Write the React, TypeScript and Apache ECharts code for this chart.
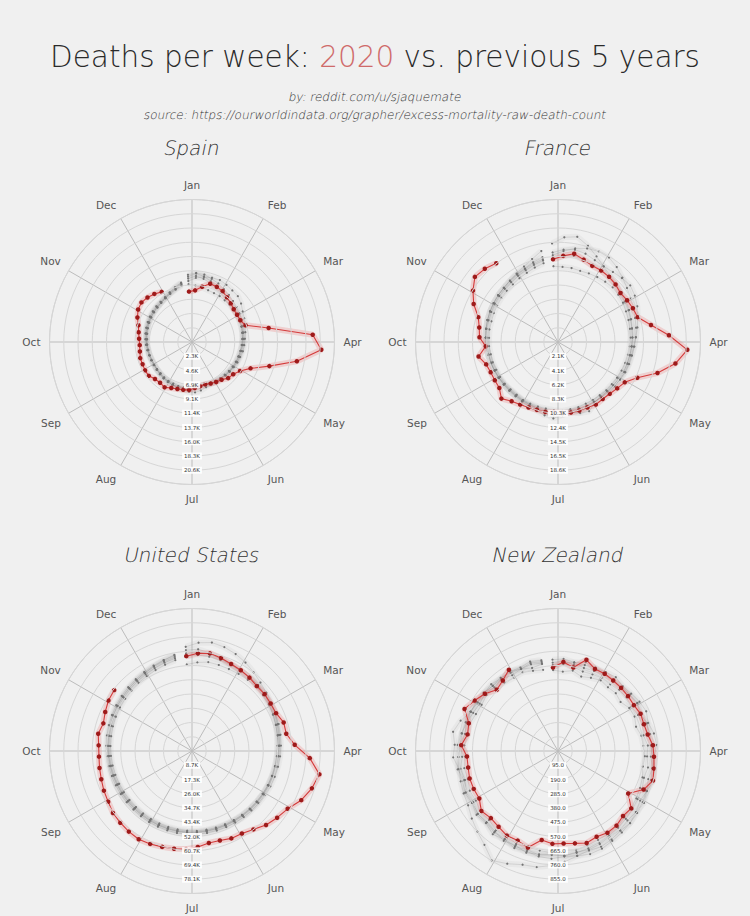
import React, { useEffect, useRef } from 'react';
import * as echarts from 'echarts';

const MONTHS = ['Jan', 'Feb', 'Mar', 'Apr', 'May', 'Jun', 'Jul', 'Aug', 'Sep', 'Oct', 'Nov', 'Dec'];

// ---------- Spain ----------
const spainTicks = ['2.3K', '4.6K', '6.9K', '9.1K', '11.4K', '13.7K', '16.0K', '18.3K', '20.6K'];
const spain2020 = [8100, 8300, 9000, 9800, 9700, 9500, 9100, 8800, 8500, 8450, 8500, 9000, 12500,
  19400, 20780, 17100, 13000, 10300, 9000, 8400, 8200, 7700, 7500, 7300, 7100, 7200,
  7400, 7700, 7800, 7900, 8100, 8500, 8300, 8400, 8800, 8800, 8700, 8700, 8500,
  8400, 8500, 8700, 9000, 9600, 10100, 10300, 10100, 9800, 9400];
const spain2015 = [10800, 11100, 11000, 10600, 10300, 9900, 9600, 9300, 9100, 8900, 8700, 8600, 8400,
  8300, 8200, 8100, 8000, 7900, 7800, 7700, 7600, 7500, 7500, 7400, 7600, 7900,
  8100, 8000, 7700, 7600, 7500, 7500, 7400, 7300, 7200, 7100, 7100, 7200, 7200,
  7300, 7300, 7400, 7500, 7600, 7700, 7800, 7900, 8000, 8200, 8500, 8900, 9300];
const spain2016 = [9300, 9100, 8900, 8700, 8600, 8600, 8500, 8500, 8400, 8400, 8300, 8300, 8200,
  8100, 8000, 7900, 7800, 7800, 7700, 7600, 7500, 7400, 7300, 7300, 7200, 7200,
  7300, 7300, 7400, 7400, 7300, 7300, 7200, 7100, 7100, 7000, 7000, 7100, 7100,
  7200, 7200, 7300, 7400, 7500, 7600, 7700, 7800, 8000, 8300, 8700, 9200, 9700];
const spain2017 = [10500, 11000, 10700, 10200, 9700, 9300, 9000, 8800, 8700, 8600, 8500, 8400, 8300,
  8200, 8100, 8000, 7900, 7800, 7700, 7600, 7500, 7400, 7400, 7300, 7300, 7400,
  7500, 7600, 7500, 7500, 7600, 7500, 7400, 7300, 7200, 7200, 7100, 7100, 7200,
  7300, 7400, 7500, 7600, 7700, 7800, 7900, 8000, 8100, 8300, 8600, 9000, 9500];
const spain2018 = [9800, 10300, 10600, 10800, 10900, 10700, 10500, 10400, 10000, 9500, 9200, 8900, 8700,
  8500, 8400, 8300, 8100, 8000, 7800, 7700, 7600, 7500, 7400, 7300, 7200, 7200,
  7300, 7400, 7500, 7600, 7600, 7400, 7300, 7200, 7100, 7100, 7200, 7200, 7300,
  7400, 7500, 7600, 7700, 7800, 7900, 8000, 8100, 8200, 8400, 8700, 9100, 9600];
const spain2019 = [10200, 10600, 10300, 9900, 9500, 9200, 9000, 8800, 8600, 8500, 8400, 8300, 8200,
  8100, 8000, 7900, 7800, 7700, 7600, 7500, 7400, 7400, 7300, 7200, 7100, 7100,
  7300, 7600, 7800, 7700, 7500, 7400, 7300, 7200, 7100, 7000, 7000, 7100, 7100,
  7200, 7300, 7400, 7500, 7600, 7700, 7800, 7900, 8000, 8200, 8500, 8800, 9200];

// ---------- France ----------
const franceTicks = ['2.1K', '4.1K', '6.2K', '8.3K', '10.3K', '12.4K', '14.5K', '16.5K', '18.6K'];
const france2020 = [12000, 12500, 13000, 12500, 12100, 12100, 12000, 11800, 11500, 11700, 11900, 12100, 13700,
  16100, 18770, 17300, 15100, 12600, 11300, 10900, 10600, 10500, 10600, 10400, 10400, 10400,
  10300, 10200, 10300, 10300, 10400, 10600, 10900, 11600, 10800, 10700, 10700, 10900, 11700,
  10500, 11400, 11600, 12100, 13400, 14400, 15300, 15000, 14500];
const france2015 = [12600, 13200, 13800, 14200, 14400, 14300, 13800, 13200, 12700, 12300, 12000, 11700, 11500,
  11300, 11100, 10900, 10800, 10700, 10500, 10400, 10300, 10200, 10100, 10100, 10100, 10300,
  10600, 10400, 10200, 10100, 10000, 10000, 9900, 9900, 9900, 10000, 10000, 10100, 10200,
  10300, 10300, 10400, 10500, 10600, 10700, 10800, 10900, 11000, 11200, 11400, 11700, 12000];
const france2016 = [11000, 10900, 10900, 10800, 10900, 11000, 11100, 11200, 11100, 11000, 10800, 10700, 10600,
  10500, 10400, 10300, 10200, 10100, 10000, 9900, 9900, 9800, 9800, 9800, 9900, 9900,
  10000, 9900, 9800, 9800, 9800, 9800, 9700, 9700, 9800, 9800, 9800, 9900, 9900,
  10000, 10000, 10100, 10100, 10200, 10300, 10400, 10500, 10600, 10800, 11000, 11300, 11600];
const france2017 = [14300, 15200, 15500, 14600, 13600, 12800, 12200, 11900, 11700, 11500, 11300, 11100, 10900,
  10800, 10700, 10600, 10500, 10400, 10300, 10200, 10100, 10100, 10200, 10400, 10700, 10400,
  10200, 10100, 10000, 10000, 9900, 9900, 9800, 9800, 9900, 10000, 10100, 10200, 10300,
  10400, 10500, 10600, 10700, 10800, 10900, 11000, 11100, 11300, 11600, 12000, 12600, 13400];
const france2018 = [13000, 13400, 13600, 13400, 13000, 12800, 12900, 13100, 13300, 13000, 12600, 12100, 11700,
  11300, 11000, 10800, 10700, 10600, 10500, 10400, 10300, 10200, 10200, 10200, 10100, 10100,
  10300, 10600, 10800, 10400, 10200, 10100, 10000, 10000, 10000, 10100, 10100, 10200, 10300,
  10400, 10500, 10600, 10700, 10800, 10900, 11000, 11100, 11300, 11500, 11700, 12100, 12500];
const france2019 = [12300, 12600, 12700, 12500, 12300, 12100, 11900, 11700, 11500, 11300, 11200, 11000, 10900,
  10800, 10700, 10600, 10500, 10400, 10300, 10200, 10100, 10000, 10300, 11000, 10800, 10300,
  10600, 11100, 10400, 10100, 10000, 9900, 9900, 9900, 10000, 10000, 10100, 10200, 10300,
  10400, 10500, 10600, 10700, 10800, 10900, 11000, 11100, 11200, 11400, 11600, 11900, 12200];

// ---------- United States ----------
const usTicks = ['8.7K', '17.3K', '26.0K', '34.7K', '43.4K', '52.0K', '60.7K', '69.4K', '78.1K'];
const us2020 = [57800, 59600, 60400, 59300, 58000, 57400, 56700, 55800, 56100, 55900, 56100, 58400, 58300,
  62600, 71800, 78800, 76400, 72900, 68000, 65800, 63700, 60600, 58700, 58300, 57000, 56900,
  58500, 59800, 60500, 61100, 62000, 62700, 62300, 61700, 61100, 59600, 58800, 57800, 57200,
  56700, 56900, 58000, 56500, 57900, 59400, 60100];
const us2015 = [61500, 62000, 60500, 58800, 57500, 57000, 57200, 56800, 56000, 55000, 54200, 53500, 52800,
  52200, 51800, 51400, 51000, 50600, 50300, 49900, 49600, 49300, 49100, 48900, 48800, 48700,
  48700, 48600, 48500, 48400, 48300, 48300, 48200, 48200, 48300, 48400, 48600, 48800, 49100,
  49400, 49700, 50000, 50400, 50800, 51200, 51600, 52000, 52600, 53200, 54000, 55000, 56200];
const us2016 = [52800, 54000, 55000, 54800, 54700, 54800, 55000, 55200, 55000, 54600, 54000, 53400, 52800,
  52200, 51700, 51300, 50900, 50600, 50300, 50000, 49800, 49600, 49400, 49300, 49200, 49200,
  49300, 49300, 49200, 49100, 49000, 49000, 48900, 48900, 49000, 49200, 49400, 49700, 50000,
  50300, 50600, 51000, 51400, 51800, 52200, 52700, 53200, 53800, 54500, 55300, 56300, 57300];
const us2017 = [59500, 60300, 59800, 58800, 57800, 57200, 56800, 56500, 56000, 55500, 55000, 54300, 53600,
  53000, 52400, 51900, 51400, 51000, 50700, 50400, 50100, 49900, 49700, 49600, 49500, 49500,
  49600, 49700, 49600, 49500, 49500, 49400, 49400, 49400, 49500, 49700, 49900, 50200, 50500,
  50800, 51200, 51600, 52000, 52500, 53000, 53500, 54000, 54700, 55500, 56500, 57800, 59500];
const us2018 = [63500, 66000, 67100, 66200, 64700, 62900, 60800, 58900, 57500, 56400, 55500, 54700, 54000,
  53300, 52700, 52200, 51700, 51300, 50900, 50600, 50300, 50100, 49900, 49800, 49700, 49700,
  49800, 49800, 49700, 49700, 49600, 49600, 49600, 49600, 49700, 49900, 50100, 50400, 50700,
  51000, 51400, 51800, 52200, 52700, 53200, 53700, 54200, 54800, 55500, 56300, 57200, 58200];
const us2019 = [57800, 58500, 58300, 57900, 57400, 57000, 56800, 56600, 56300, 56000, 55600, 55200, 54700,
  54200, 53700, 53200, 52700, 52300, 51900, 51600, 51300, 51100, 50900, 50800, 50700, 50700,
  50800, 50800, 50700, 50600, 50500, 50500, 50400, 50400, 50500, 50700, 50900, 51200, 51500,
  51800, 52200, 52600, 53000, 53400, 53900, 54400, 54900, 55500, 56200, 57000, 58000, 59000];

// ---------- New Zealand ----------
const nzTicks = ['95.0', '190.0', '285.0', '380.0', '475.0', '570.0', '665.0', '760.0', '855.0'];
const nz2020 = [558, 595, 566, 637, 600, 602, 597, 595, 593, 591, 604, 600, 608,
  634, 641, 650, 663, 626, 547, 620, 613, 632, 637, 627, 642, 626,
  618, 620, 603, 674, 655, 659, 642, 633, 649, 613, 616, 617, 609,
  608, 646, 613, 623, 683, 650, 619, 577, 597, 633];
const nz2015 = [560, 580, 570, 555, 560, 570, 565, 575, 580, 570, 585, 590, 580,
  600, 595, 610, 600, 615, 620, 630, 640, 650, 660, 670, 680, 690,
  700, 690, 700, 710, 690, 700, 680, 670, 680, 660, 670, 650, 660,
  640, 650, 630, 640, 620, 610, 620, 600, 610, 590, 600, 580, 590];
const nz2016 = [540, 530, 545, 520, 535, 550, 540, 545, 530, 555, 560, 545, 565,
  570, 580, 575, 590, 600, 610, 620, 625, 640, 645, 650, 660, 670,
  665, 680, 675, 670, 680, 660, 670, 650, 655, 640, 645, 630, 635,
  620, 625, 610, 615, 600, 595, 605, 590, 580, 570, 575, 560, 550];
const nz2017 = [590, 600, 585, 600, 610, 595, 605, 600, 610, 620, 605, 615, 625,
  620, 635, 640, 650, 645, 660, 670, 680, 690, 700, 714, 720, 711,
  740, 765, 787, 794, 824, 853, 795, 760, 730, 700, 690, 680, 670,
  665, 655, 650, 645, 640, 630, 625, 615, 620, 610, 600, 615, 605];
const nz2018 = [575, 590, 600, 580, 585, 595, 590, 600, 605, 615, 600, 625, 610,
  630, 620, 640, 630, 650, 640, 660, 655, 670, 665, 680, 690, 685,
  700, 695, 705, 690, 700, 685, 690, 675, 680, 665, 670, 655, 680,
  665, 670, 655, 635, 640, 625, 630, 615, 610, 620, 600, 605, 595];
const nz2019 = [610, 615, 600, 620, 605, 615, 625, 610, 620, 635, 645, 630, 650,
  660, 640, 655, 665, 650, 670, 660, 680, 675, 690, 700, 695, 710,
  705, 720, 715, 700, 710, 690, 705, 680, 690, 670, 680, 665, 670,
  700, 690, 711, 680, 635, 640, 625, 630, 615, 620, 610, 625, 615];

const COUNTRIES = [
  { name: 'Spain', center: [192, 342], max: 22860, step: 2286, ticks: spainTicks, current: spain2020,
    past: [spain2015, spain2016, spain2017, spain2018, spain2019] },
  { name: 'France', center: [558, 342], max: 20650, step: 2065, ticks: franceTicks, current: france2020,
    past: [france2015, france2016, france2017, france2018, france2019] },
  { name: 'United States', center: [192, 751], max: 86700, step: 8670, ticks: usTicks, current: us2020,
    past: [us2015, us2016, us2017, us2018, us2019] },
  { name: 'New Zealand', center: [558, 751], max: 950, step: 95, ticks: nzTicks, current: nz2020,
    past: [nz2015, nz2016, nz2017, nz2018, nz2019] },
];

const TITLE_Y = [148, 148, 555, 555];
const THIN = 'DejaVu Sans';
const SLANT = -0.2;

export default function App() {
  const ref = useRef<HTMLDivElement>(null);
  useEffect(() => {
    if (!ref.current) return;
    const chart = echarts.init(ref.current, null, { renderer: 'svg' });
    const toAngle = (i: number) => {
      let a = ((i - 0.5) * 12) / 52;
      if (a > 6) a -= 12;
      return a;
    };
    const toData = (arr: number[]) => arr.map((v, i) => [v, toAngle(i)]);

    const polar: any[] = [];
    const angleAxis: any[] = [];
    const radiusAxis: any[] = [];
    const series: any[] = [];
    const graphic: any[] = [];

    COUNTRIES.forEach((c, k) => {
      polar.push({ center: c.center, radius: 142.5 });
      angleAxis.push({
        polarIndex: k,
        type: 'value',
        min: -6,
        max: 6,
        interval: 1,
        startAngle: -90,
        clockwise: true,
        axisLine: { show: true, lineStyle: { color: '#d2d2d2', width: 1 } },
        axisTick: { show: false },
        axisLabel: {
          formatter: (v: number) => (v >= 6 ? '' : MONTHS[(Math.round(v) + 12) % 12]),
          color: '#555',
          fontSize: 10.5,
          fontFamily: 'DejaVu Sans',
          margin: 9,
        },
        splitLine: { show: true, lineStyle: { color: '#bcbcbc', width: 1 } },
      });
      radiusAxis.push({
        polarIndex: k,
        type: 'value',
        min: 0,
        max: c.max,
        interval: c.step,
        axisLine: { show: false },
        axisTick: { show: false },
        splitLine: { show: true, lineStyle: { color: '#d6d6d6', width: 1 } },
        axisLabel: {
          showMinLabel: false,
          showMaxLabel: false,
          formatter: (v: number) => {
            const idx = Math.round(v / c.step);
            return idx >= 1 && idx <= c.ticks.length ? c.ticks[idx - 1] : '';
          },
          margin: 0,
          align: 'center',
          verticalAlign: 'middle',
          fontSize: 5.5,
          fontFamily: 'DejaVu Sans',
          color: '#333',
          backgroundColor: 'rgba(255,255,255,0.9)',
          padding: [1, 2, 0, 2],
        },
        z: 5,
      });
      c.past.forEach((arr) => {
        series.push({
          type: 'line', coordinateSystem: 'polar', polarIndex: k, data: toData(arr),
          symbol: 'none', silent: true, z: 1,
          lineStyle: { width: 6, color: 'rgba(170,170,170,0.11)' },
        });
      });
      c.past.forEach((arr) => {
        series.push({
          type: 'line', coordinateSystem: 'polar', polarIndex: k, data: toData(arr),
          symbol: 'circle', symbolSize: 2.2, showAllSymbol: true, silent: true, z: 2,
          lineStyle: { width: 0.5, color: 'rgba(120,120,120,0.4)' },
          itemStyle: { color: '#747474' },
        });
      });
      series.push({
        type: 'line', coordinateSystem: 'polar', polarIndex: k, data: toData(c.current),
        symbol: 'none', silent: true, z: 3,
        lineStyle: { width: 6, color: 'rgba(235,125,125,0.28)' },
      });
      series.push({
        type: 'line', coordinateSystem: 'polar', polarIndex: k, data: toData(c.current),
        symbol: 'circle', symbolSize: 4.5, showAllSymbol: true, silent: true, z: 4,
        lineStyle: { width: 1.1, color: '#d43b3b' },
        itemStyle: { color: '#9e1a1a' },
      });
      graphic.push({
        type: 'text',
        x: c.center[0],
        y: TITLE_Y[k],
        skewX: SLANT,
        style: {
          text: c.name,
          align: 'center',
          verticalAlign: 'middle',
          fontSize: 20,
          fontFamily: THIN,
          fontWeight: 200,
          fill: '#333',
        },
      });
    });

    graphic.push({
      type: 'text',
      x: 375,
      y: 57,
      style: {
        text: '{a|Deaths per week: }{b|2020}{a| vs. previous 5 years}',
        align: 'center',
        verticalAlign: 'middle',
        rich: {
          a: { fontSize: 29.5, fontFamily: THIN, fontWeight: 200, fill: '#2a2a2a' },
          b: { fontSize: 29.5, fontFamily: THIN, fontWeight: 200, fill: '#cf6a6a' },
        },
      },
    });
    graphic.push({
      type: 'text', x: 375, y: 97, skewX: SLANT,
      style: { text: 'by: reddit.com/u/sjaquemate', align: 'center', verticalAlign: 'middle',
        fontSize: 12, fontFamily: THIN, fontWeight: 200, fill: '#333' },
    });
    graphic.push({
      type: 'text', x: 375, y: 115, skewX: SLANT,
      style: { text: 'source: https://ourworldindata.org/grapher/excess-mortality-raw-death-count',
        align: 'center', verticalAlign: 'middle',
        fontSize: 12, fontFamily: THIN, fontWeight: 200, fill: '#333' },
    });

    chart.setOption({
      animation: false,
      backgroundColor: '#f0f0f0',
      polar,
      angleAxis,
      radiusAxis,
      series,
      graphic,
    });
    return () => chart.dispose();
  }, []);
  return <div ref={ref} style={{ position: 'absolute', left: 0, top: 0, width: 750, height: 916 }} />;
}
